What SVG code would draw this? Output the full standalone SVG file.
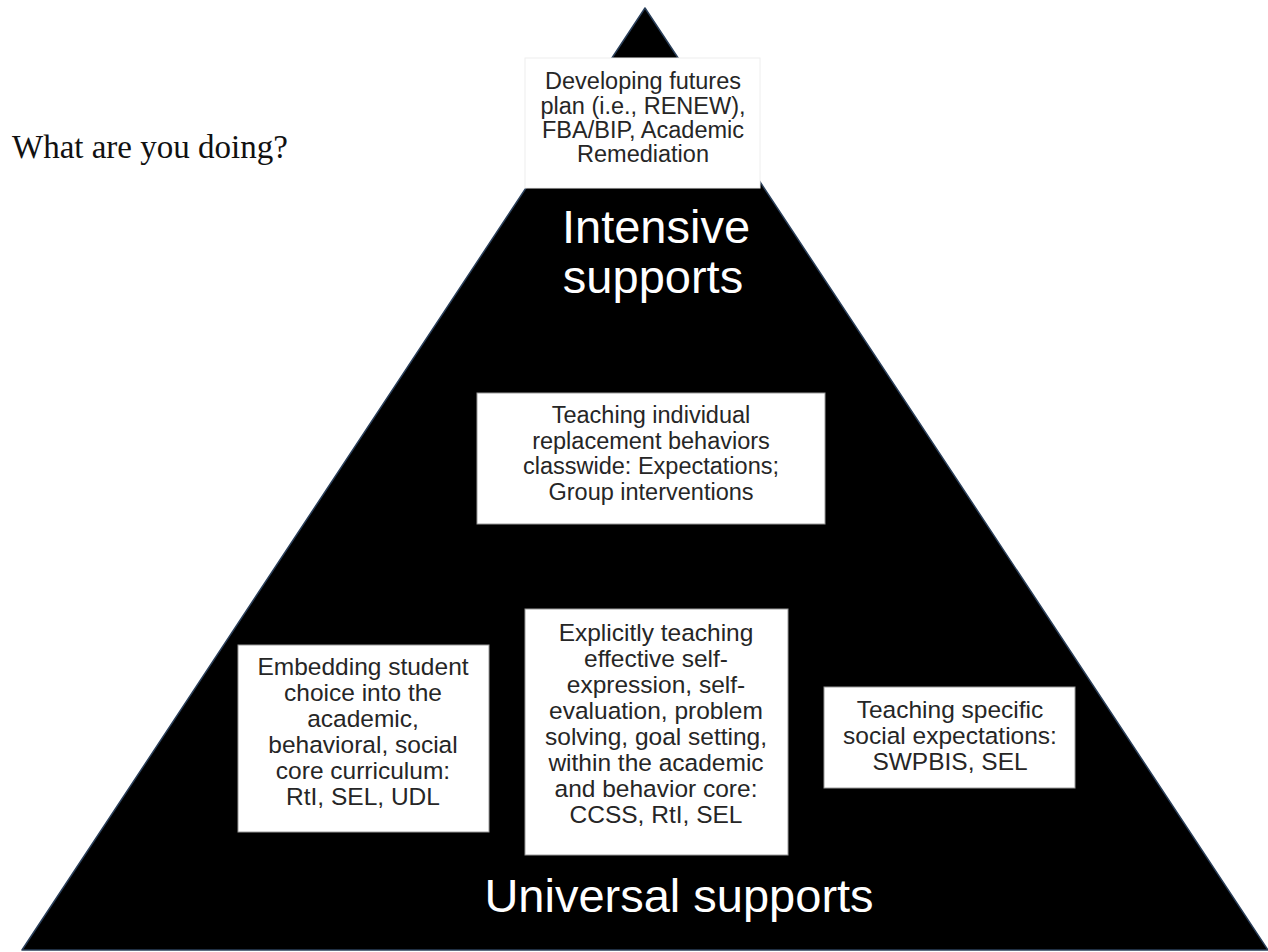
<svg xmlns="http://www.w3.org/2000/svg" width="1268" height="952" viewBox="0 0 1268 952">
<style>
.box{fill:#ffffff;stroke:#9a9a9a;stroke-width:1}
.bt{font-family:"Liberation Sans",Arial,sans-serif;fill:#262626;text-anchor:middle}
.big{font-family:"Liberation Sans",Arial,sans-serif;fill:#ffffff;text-anchor:middle;font-size:47px}
</style>
<rect width="1268" height="952" fill="#ffffff"/>
<g id="pyramid">
<polygon points="645,8 22,950 1268,950" fill="#000000" stroke="#2a3f5a" stroke-width="1.5" stroke-linejoin="round"/>
</g>
<g id="title">
<text x="12" y="158" font-family="'Liberation Serif','Times New Roman',serif" font-size="33" fill="#111111">What are you doing?</text>
</g>
<g id="top-box">
<rect x="525" y="58" width="235" height="130" fill="#ffffff" stroke="#eeeeee"/>
<text class="bt" font-size="23.5"><tspan x="643" y="89">Developing futures</tspan><tspan x="643" y="113.5">plan (i.e., RENEW),</tspan><tspan x="643" y="138">FBA/BIP, Academic</tspan><tspan x="643" y="162">Remediation</tspan></text>
</g>
<g id="intensive-label">
<text class="big"><tspan x="656" y="243">Intensive</tspan><tspan x="653" y="293">supports</tspan></text>
</g>
<g id="middle-box">
<rect class="box" x="477" y="393" width="348" height="131"/>
<text class="bt" font-size="23.5"><tspan x="651" y="423">Teaching individual</tspan><tspan x="651" y="449">replacement behaviors</tspan><tspan x="651" y="474">classwide: Expectations;</tspan><tspan x="651" y="500">Group interventions</tspan></text>
</g>
<g id="left-box">
<rect class="box" x="238" y="645" width="251" height="187"/>
<text class="bt" font-size="24.5"><tspan x="363" y="675">Embedding student</tspan><tspan x="363" y="701">choice into the</tspan><tspan x="363" y="727">academic,</tspan><tspan x="363" y="753">behavioral, social</tspan><tspan x="363" y="779">core curriculum:</tspan><tspan x="363" y="805">RtI, SEL, UDL</tspan></text>
</g>
<g id="center-box">
<rect class="box" x="525" y="609" width="263" height="246"/>
<text class="bt" font-size="24.5"><tspan x="656" y="641">Explicitly teaching</tspan><tspan x="656" y="667">effective self-</tspan><tspan x="656" y="693">expression, self-</tspan><tspan x="656" y="719">evaluation, problem</tspan><tspan x="656" y="745">solving, goal setting,</tspan><tspan x="656" y="771">within the academic</tspan><tspan x="656" y="797">and behavior core:</tspan><tspan x="656" y="823">CCSS, RtI, SEL</tspan></text>
</g>
<g id="right-box">
<rect class="box" x="824" y="687" width="251" height="101"/>
<text class="bt" font-size="24.5"><tspan x="950" y="718">Teaching specific</tspan><tspan x="950" y="744">social expectations:</tspan><tspan x="950" y="770">SWPBIS, SEL</tspan></text>
</g>
<g id="universal-label">
<text class="big" x="679" y="912">Universal supports</text>
</g>
<g id="connectors"></g>
</svg>
